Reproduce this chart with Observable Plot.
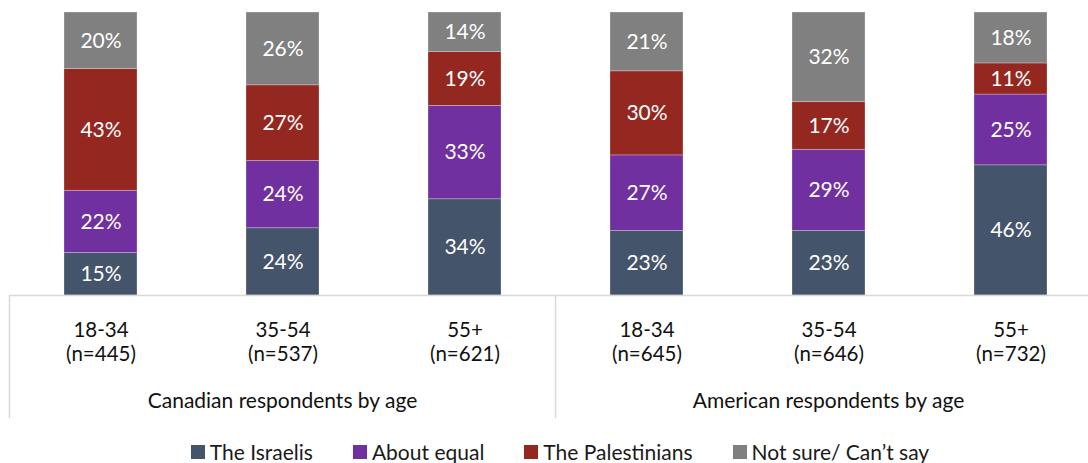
<!DOCTYPE html>
<html><head><meta charset="utf-8">
<script src="https://cdn.jsdelivr.net/npm/d3@7"></script>
<script src="https://cdn.jsdelivr.net/npm/@observablehq/plot@0.6"></script>
<style>
html,body{margin:0;padding:0;background:#fff;}
body{font-family:Lato, "Noto Sans", sans-serif;width:1088px;height:463px;overflow:hidden;}
#legend{display:flex;justify-content:center;padding-left:32px;margin-top:15px;font-size:21px;color:#1a1a1a;line-height:24px;}
#legend .item{display:flex;align-items:center;margin:0 20px;white-space:nowrap;}
#legend .sw{width:14px;height:14px;margin-right:5px;display:inline-block;}
</style></head><body><div id="chart"></div><div id="legend"></div>
<script>
const groups = ["Canadian respondents by age", "American respondents by age"];
const ages = ["18-34", "35-54", "55+"];
const sampleSizes = [[445, 537, 621], [645, 646, 732]];
const responses = ["The Israelis", "About equal", "The Palestinians", "Not sure/ Can’t say"];
const colors = ["#44546A", "#7030A0", "#952721", "#808080"];
// values in order: CA 18-34, CA 35-54, CA 55+, US 18-34, US 35-54, US 55+
const israelis = [15, 24, 34, 23, 23, 46];
const aboutEqual = [22, 24, 33, 27, 29, 25];
const palestinians = [43, 27, 19, 30, 17, 11];
const notSure = [20, 26, 14, 21, 32, 18];

const series = [israelis, aboutEqual, palestinians, notSure];
const cats = [];
groups.forEach((g, i) => ages.forEach((a, j) => cats.push({group: g, age: a, n: sampleSizes[i][j]})));
const data = [];
cats.forEach((c, k) => responses.forEach((r, s) => data.push({...c, response: r, value: series[s][k]})));

const font = "Lato, 'Noto Sans', sans-serif";
const chart = Plot.plot({
  width: 1088,
  height: 425,
  marginTop: 12,
  marginBottom: 130,
  marginLeft: 9,
  marginRight: -13,
  style: {fontFamily: font, background: "#fff"},
  fx: {domain: groups, padding: 0, label: null},
  x: {domain: ages, paddingInner: 0.6, paddingOuter: 0.3, axis: null},
  y: {domain: [0, 1], axis: null},
  color: {domain: responses, range: colors},
  marks: [
    Plot.barY(data, Plot.stackY({offset: "normalize"}, {
      fx: "group", x: "age", y: "value", z: "response", fill: "response",
      stroke: "#fff", strokeOpacity: 0.35, strokeWidth: 0.75
    })),
    Plot.text(data, Plot.stackY({offset: "normalize"}, {
      fx: "group", x: "age", y: "value", z: "response",
      text: d => d.value + "%", fill: "#fff", fontSize: 21
    })),
    Plot.ruleY([0], {stroke: "#d9d9d9", strokeWidth: 1.5}),
    Plot.frame({anchor: "left", stroke: "#d9d9d9", strokeWidth: 1.5, insetTop: 283, insetBottom: -122}),
    Plot.text(cats, {
      fx: "group", x: "age", text: d => `${d.age}\n(n=${d.n})`,
      frameAnchor: "bottom", lineAnchor: "top", dy: 24, lineHeight: 1.17,
      fontSize: 20.5, fill: "#111"
    }),
    Plot.axisFx({anchor: "bottom", tickSize: 0, tickPadding: 98, fontSize: 21, label: null, color: "#111"})
  ]
});
document.getElementById("chart").appendChild(chart);

const legend = document.getElementById("legend");
responses.forEach((r, i) => {
  const it = document.createElement("span");
  it.className = "item";
  const sw = document.createElement("span");
  sw.className = "sw";
  sw.style.background = colors[i];
  it.appendChild(sw);
  it.appendChild(document.createTextNode(r));
  legend.appendChild(it);
});
</script>
</body></html>
